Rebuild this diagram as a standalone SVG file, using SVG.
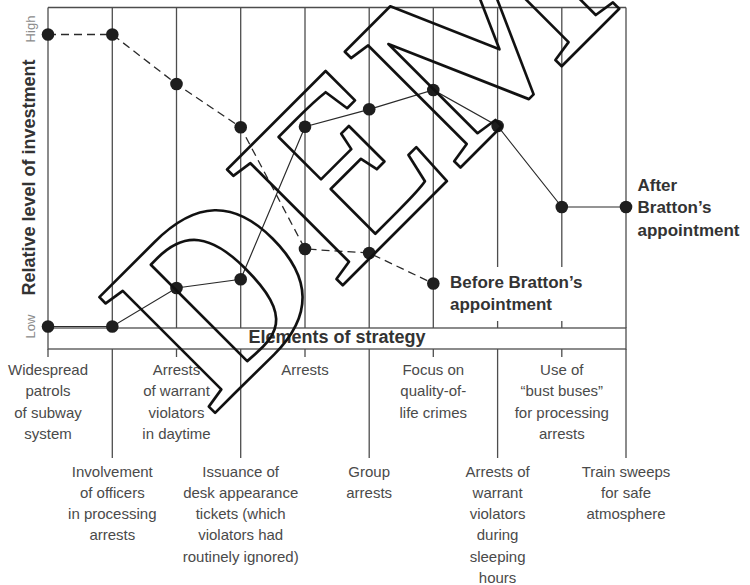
<svg xmlns="http://www.w3.org/2000/svg" width="750" height="585" viewBox="0 0 750 585">
  <style>
    .grid { stroke: #4d4d4d; stroke-width: 1.3; fill: none; }
    .bar { stroke: #4d4d4d; stroke-width: 1.3; fill: #fff; }
    .dot { fill: #1e1e1e; }
    .before { stroke: #2a2a2a; stroke-width: 1.3; fill: none; stroke-dasharray: 8 5; }
    .after { stroke: #2a2a2a; stroke-width: 1.2; fill: none; }
    .lbl { font-family: "Liberation Sans", Arial, sans-serif; font-size: 15px; fill: #4a4a4a; text-anchor: middle; }
    .key { font-family: "Liberation Sans", Arial, sans-serif; font-size: 17px; font-weight: bold; fill: #333; }
    .axis { font-family: "Liberation Sans", Arial, sans-serif; font-size: 18px; font-weight: bold; fill: #333; text-anchor: middle; }
    .lvl { font-family: "Liberation Sans", Arial, sans-serif; font-size: 13px; fill: #8a8a8a; text-anchor: middle; }
    .mark { font-family: "Liberation Serif", "Times New Roman", serif; font-weight: bold; font-size: 250px; fill: none; stroke: #111; stroke-width: 2.7; stroke-linejoin: round; }
  </style>

  <!-- frame and column rules of the chart area -->
  <g id="grid" class="grid">
    <line x1="48" y1="7.5" x2="626" y2="7.5"/>
    <line x1="48" y1="7.5" x2="48" y2="328"/>
    <line x1="112.3" y1="7.5" x2="112.3" y2="328"/>
    <line x1="176.5" y1="7.5" x2="176.5" y2="328"/>
    <line x1="240.7" y1="7.5" x2="240.7" y2="328"/>
    <line x1="305" y1="7.5" x2="305" y2="328"/>
    <line x1="369.2" y1="7.5" x2="369.2" y2="328"/>
    <line x1="433.3" y1="7.5" x2="433.3" y2="328"/>
    <line x1="497.6" y1="7.5" x2="497.6" y2="328"/>
    <line x1="561.8" y1="7.5" x2="561.8" y2="328"/>
    <line x1="626" y1="7.5" x2="626" y2="328"/>
    <!-- short ticks for the upper label row -->
    <line x1="48" y1="349" x2="48" y2="357"/>
    <line x1="176.5" y1="349" x2="176.5" y2="357"/>
    <line x1="305" y1="349" x2="305" y2="357"/>
    <line x1="433.3" y1="349" x2="433.3" y2="357"/>
    <line x1="561.8" y1="349" x2="561.8" y2="357"/>
    <!-- long rules for the lower label row -->
    <line x1="112.3" y1="349" x2="112.3" y2="458"/>
    <line x1="240.7" y1="349" x2="240.7" y2="458"/>
    <line x1="369.2" y1="349" x2="369.2" y2="458"/>
    <line x1="497.6" y1="349" x2="497.6" y2="458"/>
    <line x1="626" y1="349" x2="626" y2="458"/>
  </g>

  <!-- horizontal strategy bar -->
  <g id="strategy-bar">
    <rect class="bar" x="48" y="328" width="578" height="21"/>
    <text class="axis" x="337" y="343" font-size="17.5">Elements of strategy</text>
  </g>

  <!-- vertical axis -->
  <g id="y-axis">
    <text class="axis" transform="translate(35,177.5) rotate(-90)">Relative level of investment</text>
    <text class="lvl" transform="translate(35,29) rotate(-90)">High</text>
    <text class="lvl" transform="translate(35,326.5) rotate(-90)">Low</text>
  </g>

  <!-- series lines -->
  <g id="connectors">
    <polyline class="before" points="48,34.5 112.3,34.5 176.5,84 240.7,127.3 305,249 369.2,253 433.3,283.5"/>
    <polyline class="after" points="48,326.5 112.3,326.5 176.5,288 240.7,279.3 305,126.7 369.2,109.3 433.3,90 497.6,126 561.8,207 626,207"/>
  </g>

  <!-- series markers -->
  <g id="before-points" class="dot">
    <circle cx="48" cy="34.5" r="6.3"/>
    <circle cx="112.3" cy="34.5" r="6.3"/>
    <circle cx="176.5" cy="84" r="6.3"/>
    <circle cx="240.7" cy="127.3" r="6.3"/>
    <circle cx="305" cy="249" r="6.3"/>
    <circle cx="369.2" cy="253" r="6.3"/>
    <circle cx="433.3" cy="283.5" r="6.3"/>
  </g>
  <g id="after-points" class="dot">
    <circle cx="48" cy="326.5" r="6.3"/>
    <circle cx="112.3" cy="326.5" r="6.3"/>
    <circle cx="176.5" cy="288" r="6.3"/>
    <circle cx="240.7" cy="279.3" r="6.3"/>
    <circle cx="305" cy="126.7" r="6.3"/>
    <circle cx="369.2" cy="109.3" r="6.3"/>
    <circle cx="433.3" cy="90" r="6.3"/>
    <circle cx="497.6" cy="126" r="6.3"/>
    <circle cx="561.8" cy="207" r="6.3"/>
    <circle cx="626" cy="207" r="6.3"/>
  </g>

  <!-- series keys -->
  <g id="before-key">
    <rect x="446" y="267" width="136" height="54" fill="#fff"/>
    <text class="key" x="450" y="287.5">Before Bratton’s</text>
    <text class="key" x="450" y="310">appointment</text>
  </g>
  <g id="after-key">
    <text class="key" x="637.5" y="190.5">After</text>
    <text class="key" x="637.5" y="213">Bratton’s</text>
    <text class="key" x="637.5" y="235.5">appointment</text>
  </g>

  <!-- upper row of strategy elements -->
  <g id="el-patrols" class="lbl">
    <text x="48" y="375">Widespread</text>
    <text x="48" y="396.3">patrols</text>
    <text x="48" y="417.6">of subway</text>
    <text x="48" y="439">system</text>
  </g>
  <g id="el-daytime" class="lbl">
    <text x="176.5" y="375">Arrests</text>
    <text x="176.5" y="396.3">of warrant</text>
    <text x="176.5" y="417.6">violators</text>
    <text x="176.5" y="439">in daytime</text>
  </g>
  <g id="el-arrests" class="lbl">
    <text x="305" y="375">Arrests</text>
  </g>
  <g id="el-quality" class="lbl">
    <text x="433.3" y="375">Focus on</text>
    <text x="433.3" y="396.3">quality-of-</text>
    <text x="433.3" y="417.6">life crimes</text>
  </g>
  <g id="el-buses" class="lbl">
    <text x="561.8" y="375">Use of</text>
    <text x="561.8" y="396.3">“bust buses”</text>
    <text x="561.8" y="417.6">for processing</text>
    <text x="561.8" y="439">arrests</text>
  </g>

  <!-- lower row of strategy elements -->
  <g id="el-officers" class="lbl">
    <text x="112.3" y="476.5">Involvement</text>
    <text x="112.3" y="497.8">of officers</text>
    <text x="112.3" y="519.1">in processing</text>
    <text x="112.3" y="540.4">arrests</text>
  </g>
  <g id="el-tickets" class="lbl">
    <text x="240.7" y="476.5">Issuance of</text>
    <text x="240.7" y="497.8">desk appearance</text>
    <text x="240.7" y="519.1">tickets (which</text>
    <text x="240.7" y="540.4">violators had</text>
    <text x="240.7" y="561.7">routinely ignored)</text>
  </g>
  <g id="el-group" class="lbl">
    <text x="369.2" y="476.5">Group</text>
    <text x="369.2" y="497.8">arrests</text>
  </g>
  <g id="el-sleeping" class="lbl">
    <text x="497.6" y="476.5">Arrests of</text>
    <text x="497.6" y="497.8">warrant</text>
    <text x="497.6" y="519.1">violators</text>
    <text x="497.6" y="540.4">during</text>
    <text x="497.6" y="561.7">sleeping</text>
    <text x="497.6" y="583">hours</text>
  </g>
  <g id="el-sweeps" class="lbl">
    <text x="626" y="476.5">Train sweeps</text>
    <text x="626" y="497.8">for safe</text>
    <text x="626" y="519.1">atmosphere</text>
  </g>

  <!-- outlined diagonal watermark -->
  <g id="watermark">
    <text class="mark" transform="translate(212,416) rotate(-45)">DEM</text>
  </g>
</svg>
